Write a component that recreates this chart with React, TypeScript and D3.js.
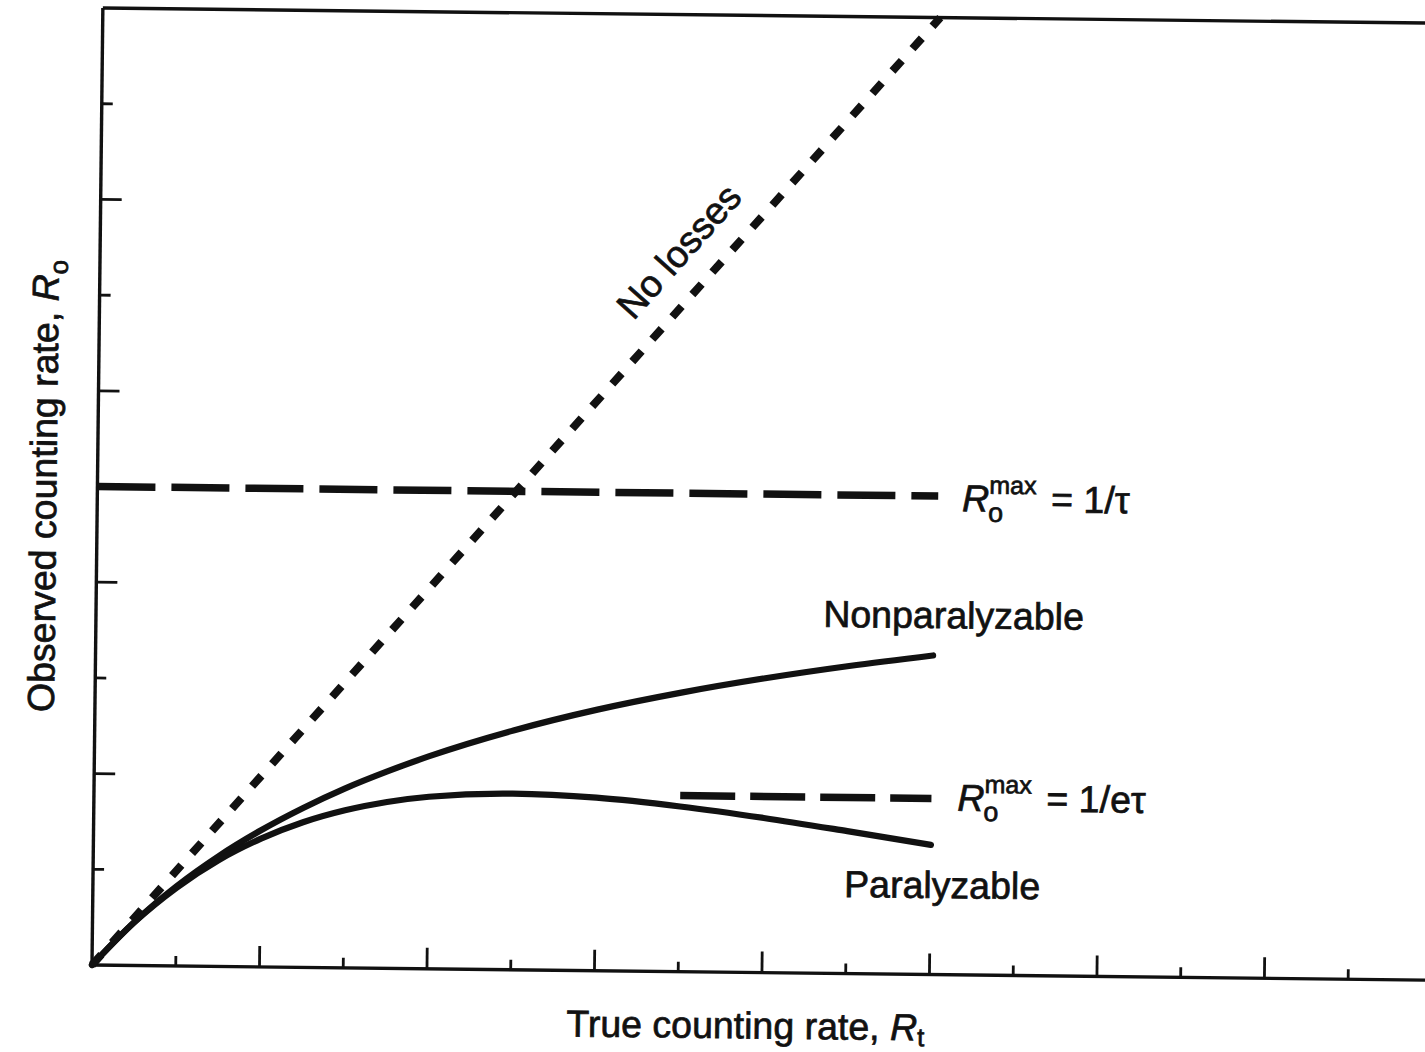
import React from "react";
import * as d3 from "d3";

// True counting rate R_t (arbitrary units) at which the curves are sampled
const trueRate = [0, 0.25, 0.5, 0.75, 1, 1.25, 1.5, 1.75, 2, 2.5, 3, 3.5, 4, 4.5, 5];
// Observed rate for a nonparalyzable detector
const nonparalyzable = [0, 0.227, 0.417, 0.577, 0.714, 0.833, 0.938, 1.029, 1.111, 1.25, 1.364, 1.458, 1.538, 1.607, 1.667];
// Observed rate for a paralyzable detector
const paralyzable = [0, 0.226, 0.409, 0.556, 0.67, 0.758, 0.823, 0.869, 0.899, 0.92, 0.904, 0.863, 0.808, 0.744, 0.677];
// Ideal detector: observed = true
const noLossesRate = [0, 5];
// Asymptotic limits
const limitNonpara = 2.5; // 1/τ
const limitPara = 0.92; // 1/eτ
const limitParaFrom = 3.5;
const curveEnd = 5;

const xTicks = d3.range(0.5, 8, 0.5);
const yTicks = d3.range(0.5, 5, 0.5);

const W = 1425;
const H = 1052;
const FONT = "'Liberation Sans', Arial, Helvetica, sans-serif";
const INK = "#111";
const FS = 37.5;

export default function App() {
  const x = d3.scaleLinear().domain([0, 8]).range([92, 1432]);
  const y = d3.scaleLinear().domain([0, 5]).range([965, 8]);

  const line = d3
    .line<[number, number]>()
    .x((d) => x(d[0]))
    .y((d) => y(d[1]));

  const nonparaPts = trueRate.map((t, i) => [t, nonparalyzable[i]] as [number, number]);
  const paraPts = trueRate.map((t, i) => [t, paralyzable[i]] as [number, number]);
  const idealPts = noLossesRate.map((t) => [t, t] as [number, number]);

  const isMajor = (v: number) => Math.abs(v - Math.round(v)) < 1e-6;

  // angle of the ideal line on screen
  const angle = (Math.atan2(y(0) - y(1), x(1) - x(0)) * 180) / Math.PI;
  const labelT = 3.63;

  const textStyle = {
    fontFamily: FONT,
    fill: INK,
    stroke: INK,
    strokeWidth: 0.7,
  } as const;

  const mathLabel = (lx: number, ly: number, rhs: string) => (
    <g {...textStyle}>
      <text x={lx} y={ly} fontSize={FS} fontStyle="italic">R</text>
      <text x={lx + 27} y={ly - 18} fontSize={25}>max</text>
      <text x={lx + 26} y={ly + 10} fontSize={27}>o</text>
      <text x={lx + 89} y={ly} fontSize={FS}>{rhs}</text>
    </g>
  );

  return (
    <svg
      width={W}
      height={H}
      viewBox={`0 0 ${W} ${H}`}
      style={{ position: "absolute", left: 0, top: 0, background: "#fff" }}
    >
      <rect width={W} height={H} fill="#fff" />
      <g transform={`rotate(0.65, ${x(0)}, ${y(0)})`}>
        {/* frame */}
        <line x1={x(0)} y1={y(0)} x2={x(8)} y2={y(0)} stroke={INK} strokeWidth={3.4} />
        <line x1={x(0)} y1={y(0)} x2={x(0)} y2={y(5)} stroke={INK} strokeWidth={3.4} />
        <line x1={x(0)} y1={y(5)} x2={x(8)} y2={y(5)} stroke={INK} strokeWidth={3.4} />

        {/* ticks */}
        {xTicks.map((v) => (
          <line
            key={`xt${v}`}
            x1={x(v)}
            x2={x(v)}
            y1={y(0)}
            y2={y(0) - (isMajor(v) ? 21 : 10)}
            stroke={INK}
            strokeWidth={2.8}
          />
        ))}
        {yTicks.map((v) => (
          <line
            key={`yt${v}`}
            y1={y(v)}
            y2={y(v)}
            x1={x(0)}
            x2={x(0) + (isMajor(v) ? 21 : 11)}
            stroke={INK}
            strokeWidth={2.8}
          />
        ))}

        {/* limits */}
        <line
          x1={x(0)}
          x2={x(5.02)}
          y1={y(limitNonpara)}
          y2={y(limitNonpara)}
          stroke={INK}
          strokeWidth={7.5}
          strokeDasharray="58 16"
        />
        <line
          x1={x(limitParaFrom)}
          x2={x(curveEnd)}
          y1={y(limitPara)}
          y2={y(limitPara)}
          stroke={INK}
          strokeWidth={7.5}
          strokeDasharray="55 15"
        />

        {/* ideal detector */}
        <path
          d={line.curve(d3.curveLinear)(idealPts) ?? ""}
          fill="none"
          stroke={INK}
          strokeWidth={8}
          strokeDasharray="14 16"
        />

        {/* detector responses */}
        <path
          d={line.curve(d3.curveMonotoneX)(nonparaPts) ?? ""}
          fill="none"
          stroke={INK}
          strokeWidth={6.2}
          strokeLinecap="round"
        />
        <path
          d={line.curve(d3.curveMonotoneX)(paraPts) ?? ""}
          fill="none"
          stroke={INK}
          strokeWidth={6.2}
          strokeLinecap="round"
        />

        {/* labels */}
        <text
          transform={`translate(${x(labelT)}, ${y(labelT)}) rotate(${-angle})`}
          y={-26}
          textAnchor="middle"
          fontSize={FS}
          {...textStyle}
        >
          No losses
        </text>
        <text x={x(5.12)} y={y(1.81)} textAnchor="middle" fontSize={FS} {...textStyle}>
          Nonparalyzable
        </text>
        <text x={x(5.07)} y={y(0.4)} textAnchor="middle" fontSize={FS} {...textStyle}>
          Paralyzable
        </text>
        {mathLabel(x(5.02) + 24, y(limitNonpara) + 15, "= 1/τ")}
        {mathLabel(x(curveEnd) + 26, y(limitPara) + 12, "= 1/eτ")}

        {/* axis titles */}
        <text x={x(0) + 654} y={y(0) + 66} textAnchor="middle" fontSize={FS} {...textStyle}>
          True counting rate,{" "}
          <tspan fontStyle="italic">R</tspan>
          <tspan fontSize={26} dy={6}>t</tspan>
        </text>
        <text
          transform={`translate(${x(0) - 41}, ${y(2.5)}) rotate(-90)`}
          textAnchor="middle"
          fontSize={FS}
          {...textStyle}
        >
          Observed counting rate,{" "}
          <tspan fontStyle="italic">R</tspan>
          <tspan fontSize={26} dy={9}>o</tspan>
        </text>
      </g>
    </svg>
  );
}
